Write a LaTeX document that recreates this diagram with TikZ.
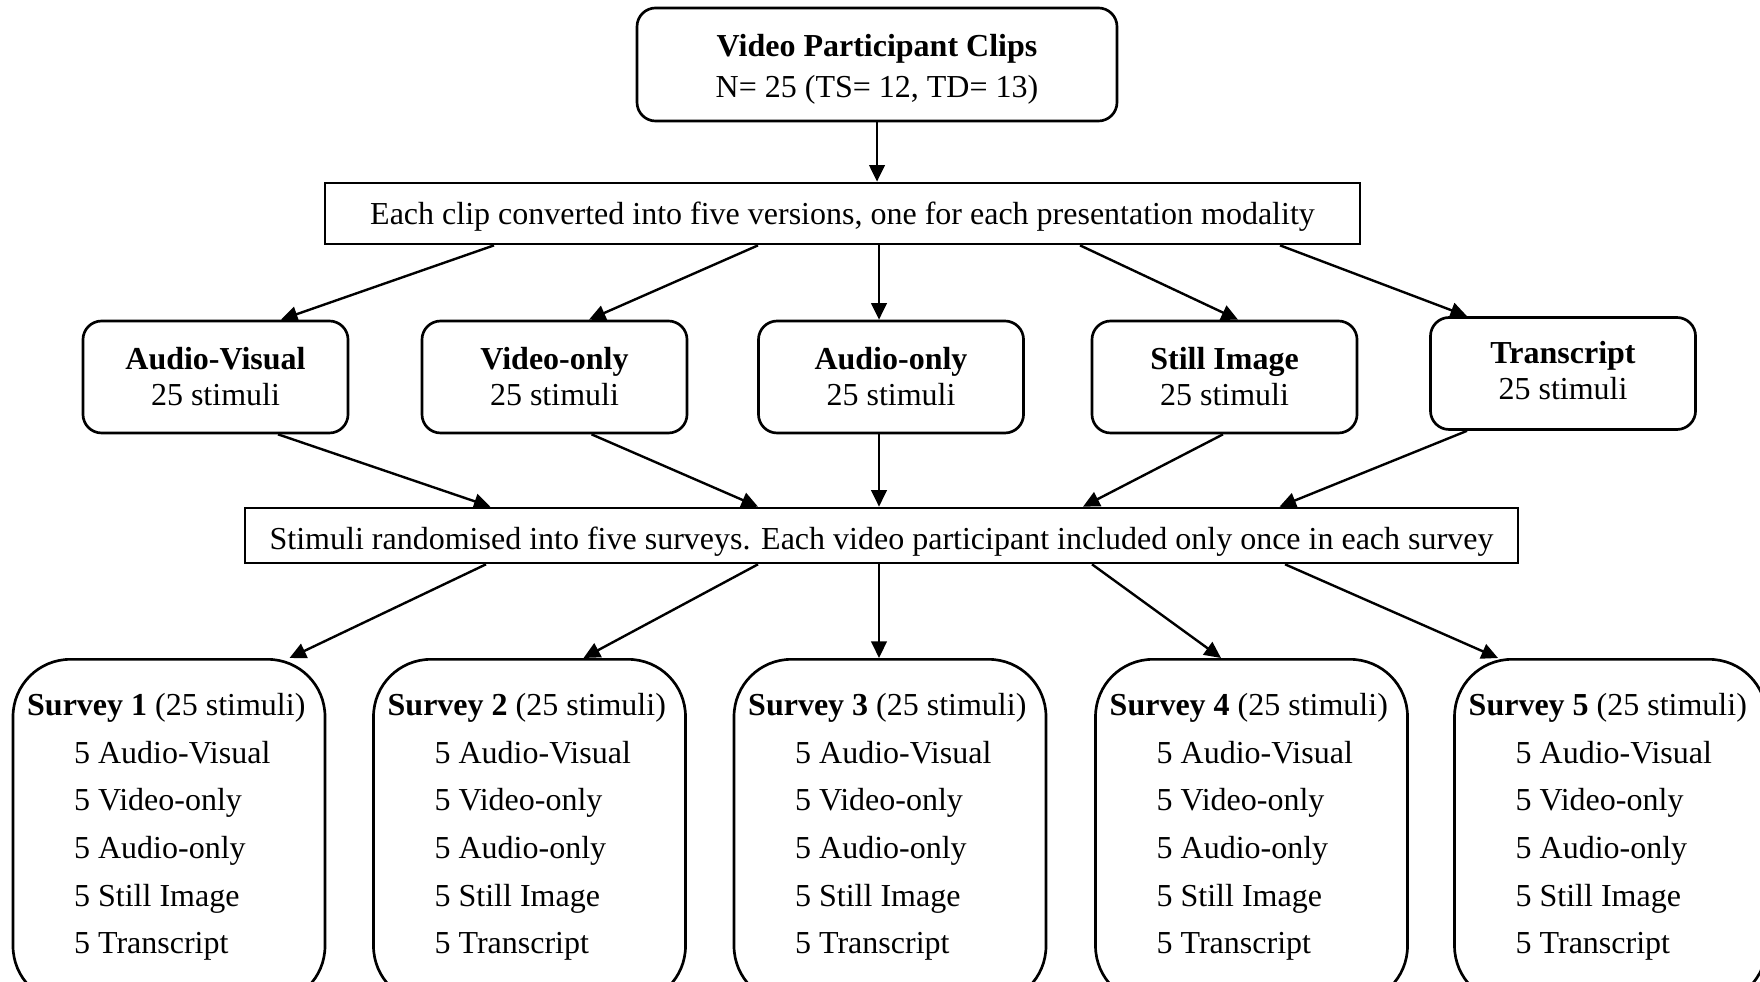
\documentclass[tikz,border=0pt]{standalone}
\usepackage{fontspec}
\setmainfont{Liberation Serif}
\usetikzlibrary{arrows.meta, positioning, calc}

\begin{document}
\begin{tikzpicture}[x=0.375pt, y=-0.375pt,
    box/.style={draw, line width=1pt, rounded corners=7pt, inner sep=0pt, align=center},
    wide/.style={draw, line width=1pt, inner sep=0pt, align=center, text depth=2.6pt, font=\fontsize{12}{14}\selectfont},
    modality/.style={box, minimum width=99.4pt, minimum height=42pt, font=\fontsize{12}{13.5}\selectfont},
    survey/.style={draw, line width=1pt, rounded corners=21.5pt, minimum width=117pt, minimum height=129pt, anchor=north},
    items/.style={inner sep=0pt, align=left, anchor=north west, font=\fontsize{12}{17.85}\selectfont},
    arr/.style={-{Triangle[length=6.2pt, width=5.8pt]}, line width=0.9pt}]
    \useasboundingbox (0,0) rectangle (1760,982);
    \clip (0,0) rectangle (1760,982);

    % Clips y conversion
    \node[box, minimum width=180pt, minimum height=42.4pt, font=\fontsize{12}{15.5}\selectfont] (clips) at (877,64.5)
        {\rule{0pt}{12pt}\textbf{Video Participant Clips}\\N= 25 (TS= 12, TD= 13)};
    \node[wide, text height=10.8pt, minimum width=388.1pt, minimum height=22.9pt] (conv) at (842.5,213.5)
        {Each clip converted into five versions, one for each presentation modality};

    % Modalidades
    \node[modality] (av) at (215.5,377) {\textbf{Audio-Visual}\\25 stimuli};
    \node[modality] (vo) at (554.5,377) {\textbf{Video-only}\\25 stimuli};
    \node[modality] (ao) at (891,377) {\textbf{Audio-only}\\25 stimuli};
    \node[modality] (si) at (1224.5,377) {\textbf{Still Image}\\25 stimuli};
    \node[modality] (tr) at (1563,373.5) {\textbf{Transcript}\\25 stimuli\rule[-2.5pt]{0pt}{0pt}};

    \node[wide, text height=13.3pt, minimum width=477.4pt, minimum height=20.6pt] (rand) at (881.5,535.5)
        {Stimuli randomised into five surveys. Each video participant included only once in each survey};

    % Encuestas
    \foreach \i/\x in {1/169, 2/529.5, 3/890, 4/1251.5, 5/1610.5} {
        \node[survey] (s\i) at (\x,658) {};
        \node[items] (s\i text) at ($(s\i.north west)+(15,35)$)
            {\textbf{Survey \i} (25 stimuli)\\
             \hspace*{17.6pt}5 Audio-Visual\\
             \hspace*{17.6pt}5 Video-only\\
             \hspace*{17.6pt}5 Audio-only\\
             \hspace*{17.6pt}5 Still Image\\
             \hspace*{17.6pt}5 Transcript};
    }

    % Flechas
    \draw[arr] (clips.south) -- (clips.south |- conv.north);

    \draw[arr] ($(conv.south)+(-348.5,0)$) -- ($(av.north)+(65.5,0)$);
    \draw[arr] ($(conv.south)+(-84.5,0)$) -- ($(vo.north)+(34.5,0)$);
    \draw[arr] ($(conv.south)+(36.5,0)$) -- ($(ao.north)+(-12,0)$);
    \draw[arr] ($(conv.south)+(237.5,0)$) -- ($(si.north)+(13.5,0)$);
    \draw[arr] ($(conv.south)+(437.5,0)$) -- ($(tr.north)+(-96,0)$);

    \draw[arr] ($(av.south)+(62.5,0)$) -- ($(rand.north)+(-391,0)$);
    \draw[arr] ($(vo.south)+(37,0)$) -- ($(rand.north)+(-123.5,0)$);
    \draw[arr] ($(ao.south)+(-12,0)$) -- ($(rand.north)+(-2.5,0)$);
    \draw[arr] ($(si.south)+(-1.5,0)$) -- ($(rand.north)+(201.5,0)$);
    \draw[arr] ($(tr.south)+(-96,0)$) -- ($(rand.north)+(398,0)$);

    \draw[arr] ($(rand.south)+(-395.5,0)$) -- ($(s1.north)+(120.5,0)$);
    \draw[arr] ($(rand.south)+(-123.5,0)$) -- ($(s2.north)+(54,0)$);
    \draw[arr] ($(rand.south)+(-2.5,0)$) -- ($(s3.north)+(-11,0)$);
    \draw[arr] ($(rand.south)+(210.5,0)$) -- ($(s4.north)+(-30.5,0)$);
    \draw[arr] ($(rand.south)+(403.5,0)$) -- ($(s5.north)+(-112.5,0)$);
\end{tikzpicture}
\end{document}
